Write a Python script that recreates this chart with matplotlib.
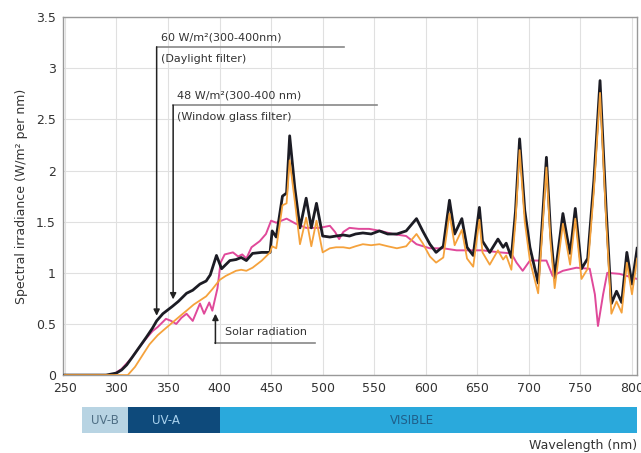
import matplotlib.pyplot as plt

# -----------------------------
# Spectral data (nm, W/m2 per nm)
# -----------------------------
daylight_nm = [250, 290, 300, 305, 310, 315, 322, 329, 335, 339, 345, 354, 360, 368,
               374, 381, 387, 391, 397, 402, 406, 410, 416, 421, 426, 432, 441, 449,
               451, 455, 461, 465, 468, 473, 478, 484, 489, 494, 500, 507, 513, 520,
               526, 532, 539, 547, 555, 563, 572, 581, 586, 591, 597, 604, 610, 617,
               623, 628, 635, 640, 646, 652, 655, 662, 670, 675, 678, 683, 687, 691,
               696, 701, 709, 713, 717, 721, 725, 733, 737, 740, 745, 751, 757, 763,
               769, 775, 780, 785, 790, 795, 800, 805]
daylight_val = [0, 0, 0.02, 0.05, 0.1, 0.17, 0.27, 0.37, 0.46, 0.53, 0.6, 0.67, 0.72, 0.8,
                0.83, 0.89, 0.92, 0.98, 1.17, 1.04, 1.08, 1.12, 1.13, 1.15, 1.12, 1.19, 1.2, 1.2,
                1.41, 1.35, 1.75, 1.78, 2.34, 1.83, 1.44, 1.73, 1.44, 1.68, 1.36, 1.35, 1.36, 1.37,
                1.36, 1.38, 1.39, 1.38, 1.41, 1.38, 1.38, 1.41, 1.47, 1.53, 1.41, 1.28, 1.2, 1.26,
                1.71, 1.38, 1.53, 1.25, 1.17, 1.64, 1.31, 1.2, 1.33, 1.25, 1.29, 1.15, 1.6, 2.31,
                1.61, 1.25, 0.9, 1.5, 2.13, 1.4, 0.95, 1.58, 1.35, 1.19, 1.63, 1.04, 1.14, 1.9,
                2.88, 1.61, 0.7, 0.82, 0.71, 1.2, 0.89, 1.24]

window_nm = [250, 305, 311, 318, 325, 332, 340, 348, 355, 362, 368, 375, 381, 387, 393,
             400, 406, 410, 416, 421, 426, 432, 441, 449, 451, 455, 461, 465, 468, 473,
             478, 484, 489, 494, 500, 507, 513, 520, 526, 532, 539, 547, 555, 563, 572,
             581, 586, 591, 597, 604, 610, 617, 623, 628, 635, 640, 646, 652, 655, 662,
             670, 675, 678, 683, 687, 691, 696, 701, 709, 713, 717, 721, 725, 733, 737,
             740, 745, 751, 757, 763, 769, 775, 780, 785, 790, 795, 800, 805]
window_val = [0, 0, 0, 0.08, 0.19, 0.3, 0.39, 0.46, 0.52, 0.58, 0.63, 0.69, 0.73, 0.77, 0.84,
              0.93, 0.97, 0.99, 1.02, 1.03, 1.02, 1.05, 1.12, 1.2, 1.26, 1.24, 1.66, 1.68, 2.1, 1.7,
              1.28, 1.54, 1.26, 1.51, 1.2, 1.24, 1.25, 1.25, 1.24, 1.26, 1.28, 1.27, 1.28, 1.26, 1.24,
              1.26, 1.32, 1.38, 1.29, 1.16, 1.1, 1.15, 1.58, 1.27, 1.42, 1.14, 1.06, 1.52, 1.2, 1.08,
              1.22, 1.13, 1.17, 1.03, 1.5, 2.2, 1.5, 1.12, 0.8, 1.4, 2.03, 1.3, 0.85, 1.48, 1.25,
              1.08, 1.53, 0.94, 1.04, 1.8, 2.76, 1.5, 0.6, 0.72, 0.61, 1.1, 0.79, 1.14]

solar_nm = [250, 296, 305, 315, 322, 329, 335, 340, 348, 353, 358, 363, 368, 374, 381,
            385, 390, 393, 398, 401, 405, 413, 418, 422, 426, 431, 439, 445, 450, 455,
            465, 474, 484, 497, 507, 512, 516, 520, 526, 535, 545, 556, 568, 581, 591,
            604, 617, 630, 640, 655, 672, 683, 688, 694, 701, 717, 723, 733, 746, 759,
            764, 767, 772, 776, 788, 805]
solar_val = [0, 0, 0.06, 0.17, 0.27, 0.36, 0.43, 0.47, 0.55, 0.53, 0.5, 0.56, 0.6, 0.53, 0.7,
             0.6, 0.71, 0.63, 0.85, 1.1, 1.18, 1.2, 1.16, 1.18, 1.14, 1.25, 1.31, 1.38, 1.51, 1.49,
             1.53, 1.48, 1.44, 1.44, 1.46, 1.4, 1.33, 1.4, 1.44, 1.43, 1.43, 1.41, 1.38, 1.36, 1.28,
             1.24, 1.24, 1.22, 1.22, 1.22, 1.2, 1.19, 1.1, 1.02, 1.12, 1.12, 0.97, 1.02, 1.05, 1.04,
             0.79, 0.48, 0.79, 1.0, 0.99, 0.94]

x_ticks = [250, 300, 350, 400, 450, 500, 550, 600, 650, 700, 750, 800]
y_ticks = [0, 0.5, 1, 1.5, 2, 2.5, 3, 3.5]
y_labels = ['0', '0.5', '1', '1.5', '2', '2.5', '3', '3.5']

# spectral bands under the axis: (start, end, label, label position)
bands = [(267, 311, 'UV-B', 289), (311, 400, 'UV-A', 348), (400, 805, 'VISIBLE', 587)]
band_colors = ['#b8d4e3', '#0e4a7b', '#2aa9dc']
band_text_colors = ['#4f6f85', '#a9d2ee', '#1f5f8a']

xlim = (248, 805)
txt = '#333333'

fig = plt.figure(figsize=(6.41, 4.53), dpi=100)
ax = fig.add_axes([0.098, 0.172, 0.896, 0.79])

ax.plot(daylight_nm, daylight_val, color='#1c1c24', lw=2.0, zorder=3)
ax.plot(window_nm, window_val, color='#f5a23c', lw=1.3, zorder=4)
ax.plot(solar_nm, solar_val, color='#e0499a', lw=1.4, zorder=2)

ax.set_xlim(*xlim)
ax.set_ylim(0, 3.5)
ax.set_xticks(x_ticks)
ax.set_yticks(y_ticks)
ax.set_yticklabels(y_labels)
ax.tick_params(length=0, labelsize=9, colors=txt, pad=5)
ax.grid(True, color='#e0e0e0', lw=0.8)
ax.set_axisbelow(True)
for s in ax.spines.values():
    s.set_color('#999999')
    s.set_linewidth(1.0)

ax.set_ylabel('Spectral irradiance (W/m² per nm)', fontsize=9, color=txt, labelpad=6)

# -----------------------------
# Callouts
# -----------------------------
arr = dict(arrowstyle='-|>', color='#222222', lw=1.1, mutation_scale=9, shrinkA=0, shrinkB=0)

ax.plot([339, 521], [3.21, 3.21], color='#888888', lw=1.2)
ax.annotate('', xy=(339, 0.58), xytext=(339, 3.21), arrowprops=arr)
ax.text(343, 3.3, '60 W/m²(300-400nm)', fontsize=8, color=txt, va='center')
ax.text(343, 3.09, '(Daylight filter)', fontsize=8, color=txt, va='center')

ax.plot([355, 553], [2.64, 2.64], color='#888888', lw=1.2)
ax.annotate('', xy=(355, 0.74), xytext=(355, 2.64), arrowprops=arr)
ax.text(359, 2.73, '48 W/m²(300-400 nm)', fontsize=8, color=txt, va='center')
ax.text(359, 2.52, '(Window glass filter)', fontsize=8, color=txt, va='center')

ax.plot([396, 493], [0.31, 0.31], color='#888888', lw=1.2)
ax.annotate('', xy=(396, 0.6), xytext=(396, 0.31), arrowprops=arr)
ax.text(405, 0.42, 'Solar radiation', fontsize=8, color=txt, va='center')

# -----------------------------
# Band strip
# -----------------------------
bx = fig.add_axes([0.098, 1 - 433 / 453, 0.896, 26 / 453])
bx.set_xlim(*xlim)
bx.set_ylim(0, 1)
bx.axis('off')
for (x0, x1, name, xt), c, tc in zip(bands, band_colors, band_text_colors):
    bx.axvspan(x0, x1, color=c, lw=0)
    bx.text(xt, 0.5, name, fontsize=8.5, color=tc, ha='center', va='center')

fig.text(0.994, 1 - 446 / 453, 'Wavelength (nm)', fontsize=9, color=txt,
         ha='right', va='center')

fig.savefig('out.png', dpi=100)
